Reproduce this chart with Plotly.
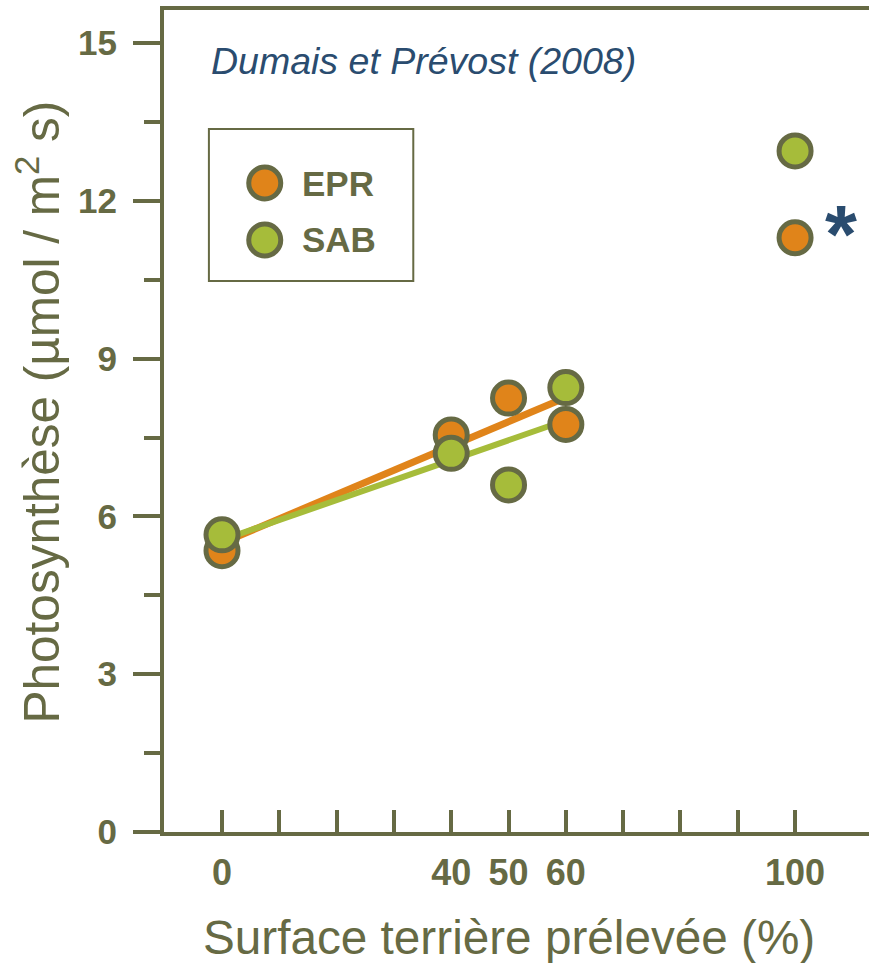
import numpy as np
import plotly.graph_objects as go

# Basal area removed (%) and photosynthesis (µmol / m² s) per species
x_vals = [0, 40, 50, 60, 100]
epr_vals = [5.35, 7.55, 8.25, 7.75, 11.3]
sab_vals = [5.65, 7.2, 6.6, 8.45, 12.95]

x_tickvals = [0, 40, 50, 60, 100]
x_ticktext = ["0", "40", "50", "60", "100"]
x_minor_ticks = [10, 20, 30, 70, 80, 90]
y_tickvals = [0, 3, 6, 9, 12, 15]

OLIVE = "#666A44"
ORANGE = "#E0841A"
GREEN = "#A6BC3A"
BLUE = "#2A4C6F"
FONT = "Liberation Sans, Arial, sans-serif"

# Linear fits over the partial-cut range (0-60 %)
fit_mask = np.array(x_vals) <= 60
fx = np.array(x_vals)[fit_mask]
fit_x = np.array([0, 60])
epr_fit = np.polyval(np.polyfit(fx, np.array(epr_vals)[fit_mask], 1), fit_x)
sab_fit = np.polyval(np.polyfit(fx, np.array(sab_vals)[fit_mask], 1), fit_x)

fig = go.Figure()
fig.add_trace(go.Scatter(x=fit_x, y=epr_fit, mode="lines",
                         line=dict(color=ORANGE, width=7), hoverinfo="skip"))
fig.add_trace(go.Scatter(x=fit_x, y=sab_fit, mode="lines",
                         line=dict(color=GREEN, width=6), hoverinfo="skip"))
fig.add_trace(go.Scatter(x=x_vals, y=epr_vals, mode="markers", name="EPR",
                         marker=dict(size=32, color=ORANGE,
                                     line=dict(color=OLIVE, width=5))))
fig.add_trace(go.Scatter(x=x_vals, y=sab_vals, mode="markers", name="SAB",
                         marker=dict(size=32, color=GREEN,
                                     line=dict(color=OLIVE, width=5))))

# Significance mark next to the 100 % EPR point
fig.add_annotation(x=x_vals[-1], y=epr_vals[-1], text="<b>*</b>", showarrow=False,
                   xanchor="left", yanchor="middle", xshift=28, yshift=4,
                   font=dict(family=FONT, size=82, color=BLUE))

# Legend box drawn by hand
fig.add_shape(type="rect", xref="paper", yref="paper",
              x0=0.0637, x1=0.3536, y0=0.6703, y1=0.8552,
              line=dict(color=OLIVE, width=2), fillcolor="rgba(0,0,0,0)")
for yp, col, name in [(0.7895, ORANGE, "EPR"), (0.7202, GREEN, "SAB")]:
    fig.add_shape(type="circle", xref="paper", yref="paper",
                  xsizemode="pixel", ysizemode="pixel",
                  xanchor=0.1429, yanchor=yp, x0=-16, x1=16, y0=-16, y1=16,
                  fillcolor=col, line=dict(color=OLIVE, width=5))
    fig.add_annotation(xref="paper", yref="paper", x=0.1924, y=yp,
                       text="<b>%s</b>" % name, showarrow=False,
                       xanchor="left", yanchor="middle",
                       font=dict(family=FONT, size=35, color=OLIVE))

# Source label
fig.add_annotation(xref="paper", yref="paper", x=0.0637, y=0.9375,
                   text="<i>Dumais et Prévost (2008)</i>", showarrow=False,
                   xanchor="left", yanchor="middle",
                   font=dict(family=FONT, size=37.5, color=BLUE))

# Axis titles
fig.add_annotation(xref="paper", yref="paper", x=0.4887, y=-0.128,
                   text="Surface terrière prélevée (%)", showarrow=False,
                   xanchor="center", yanchor="middle",
                   font=dict(family=FONT, size=47.7, color=OLIVE))
fig.add_annotation(xref="paper", yref="paper", x=-0.178, y=0.511,
                   text="Photosynthèse (µmol / m<sup>2</sup> s)", showarrow=False,
                   xanchor="center", yanchor="middle", textangle=-90,
                   font=dict(family=FONT, size=49.5, color=OLIVE))

fig.update_layout(
    width=869, height=963,
    margin=dict(l=164, r=0, t=10, b=131),
    paper_bgcolor="white", plot_bgcolor="white",
    showlegend=False,
    font=dict(family=FONT, color=OLIVE),
)
fig.update_xaxes(
    range=[-10.12, 112.9], showgrid=False, zeroline=False,
    showline=True, linecolor=OLIVE, linewidth=4, mirror=True,
    tickmode="array", tickvals=x_tickvals, ticktext=x_ticktext,
    ticks="inside", ticklen=22, tickwidth=4, tickcolor=OLIVE,
    minor=dict(tickmode="array", tickvals=x_minor_ticks, ticks="inside",
               ticklen=22, tickwidth=4, tickcolor=OLIVE, showgrid=False),
    tickfont=dict(family=FONT, size=36, color=OLIVE, weight="bold"),
    ticklabelstandoff=6,
)
fig.update_yaxes(
    range=[0, 15.63], showgrid=False, zeroline=False,
    showline=True, linecolor=OLIVE, linewidth=4,
    tickmode="array", tickvals=y_tickvals,
    ticks="outside", ticklen=27, tickwidth=4, tickcolor=OLIVE,
    minor=dict(dtick=1.5, tick0=0, ticks="outside", ticklen=16,
               tickwidth=4, tickcolor=OLIVE, showgrid=False),
    tickfont=dict(family=FONT, size=35, color=OLIVE, weight="bold"),
    ticklabelstandoff=9,
)

fig.write_html("out.html")
